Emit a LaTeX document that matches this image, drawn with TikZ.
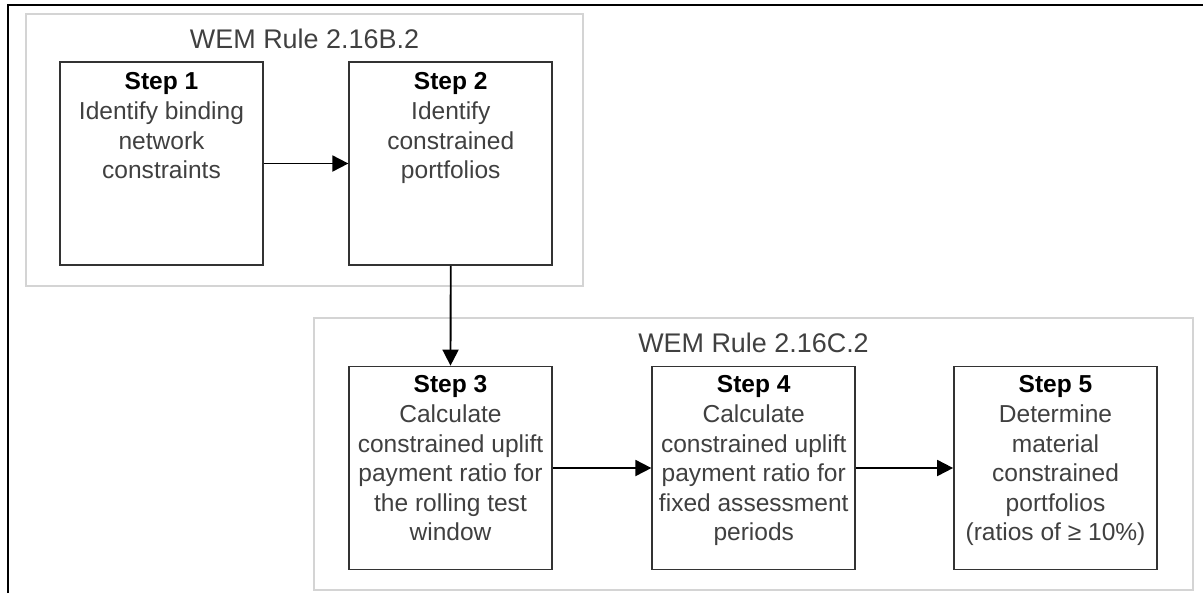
\documentclass[tikz,border=0pt]{standalone}
\usepackage{fontspec}
\setmainfont{Liberation Sans}
\usetikzlibrary{arrows.meta}
\definecolor{boxline}{HTML}{333333}
\definecolor{txtgray}{HTML}{404040}
\definecolor{grpline}{HTML}{D4D4D4}
\begin{document}
\begin{tikzpicture}[x=0.75pt,y=-0.75pt,
  stepbox/.style={draw=boxline,line width=1.3pt,minimum width=152.25pt,minimum height=152.25pt,inner sep=0pt,fill=white},
  steptext/.style={anchor=north,align=center,inner sep=0pt,text=txtgray,font=\fontsize{18.4}{22.2}\selectfont},
  grpbox/.style={draw=grpline,line width=1.5pt},
  grptitle/.style={anchor=base,inner sep=0pt,text=txtgray,font=\fontsize{20.2}{24}\selectfont}]
\tikzset{conn/.style={line width=1.4pt,-{Triangle[length=12pt,width=12pt]}}}
\useasboundingbox (0,0) rectangle (1203,593);
% outer frame
\draw[line width=1.5pt,black] (8,593) -- (8,5) -- (1203,5);
% groups
\draw[grpbox] (26,14) rectangle (583,286);
\draw[grpbox] (314,318) rectangle (1193,590);
\node[grptitle] (t1) at (304.5,48) {WEM Rule 2.16B.2};
\node[grptitle] (t2) at (753.5,352) {WEM Rule 2.16C.2};
% boxes
\node[stepbox] (s1) at (161.5,163.5) {};
\node[stepbox] (s2) at (450.75,163.5) {};
\node[stepbox] (s3) at (450.5,468) {};
\node[stepbox] (s4) at (753.75,468) {};
\node[stepbox] (s5) at (1055.5,468) {};
\node[steptext] (l1) at (161.5,72.5) {\textbf{\textcolor{black}{Step 1}}\\Identify binding\\network\\constraints};
\node[steptext] (l2) at (450.75,72.5) {\textbf{\textcolor{black}{Step 2}}\\Identify\\constrained\\portfolios};
\node[steptext] (l3) at (450.5,375.5) {\textbf{\textcolor{black}{Step 3}}\\Calculate\\constrained uplift\\payment ratio for\\the rolling test\\window};
\node[steptext] (l4) at (753.75,375.5) {\textbf{\textcolor{black}{Step 4}}\\Calculate\\constrained uplift\\payment ratio for\\fixed assessment\\periods};
\node[steptext] (l5) at (1055.5,375.5) {\textbf{\textcolor{black}{Step 5}}\\Determine\\material\\constrained\\portfolios\\(ratios of ≥ 10\%)};
% connectors
\draw[conn] (s1.east) -- (s2.west);
\draw[conn] (s2.south) -- (s3.north);
\draw[conn] (s3.east) -- (s4.west);
\draw[conn] (s4.east) -- (s5.west);
\end{tikzpicture}
\end{document}
